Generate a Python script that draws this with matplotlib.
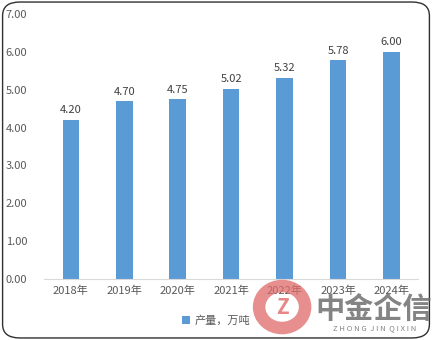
import matplotlib.pyplot as plt
from matplotlib.patches import FancyBboxPatch, Ellipse

plt.rcParams['font.family'] = ['Noto Sans CJK SC', 'DejaVu Sans']

years = ['2018年', '2019年', '2020年', '2021年', '2022年', '2023年', '2024年']
output = [4.20, 4.70, 4.75, 5.02, 5.32, 5.78, 6.00]
yticks = [0, 1, 2, 3, 4, 5, 6, 7]

fig = plt.figure(figsize=(4.32, 3.40), dpi=100)
ax = fig.add_axes([0.102, 0.179, 0.866, 0.78])

bars = ax.bar(range(len(years)), output, width=0.31, color='#5B9BD5', label='产量，万吨')
for b, v in zip(bars, output):
    ax.text(b.get_x() + b.get_width() / 2, v + 0.12, '%.2f' % v,
            ha='center', va='bottom', fontsize=8, color='#404040')

ax.set_xlim(-0.5, len(years) - 0.5)
ax.set_ylim(0, 7)
ax.set_yticks(yticks)
ax.set_yticklabels(['%.2f' % t for t in yticks])
ax.set_xticks(range(len(years)))
ax.set_xticklabels(years)
ax.tick_params(axis='both', length=0, labelsize=8, labelcolor='#595959')
ax.tick_params(axis='y', pad=12)
ax.tick_params(axis='x', pad=5)
for s in ['top', 'right', 'left']:
    ax.spines[s].set_visible(False)
ax.spines['bottom'].set_color('#D9D9D9')

leg = fig.legend(handles=[bars], labels=['产量，万吨'], loc='center',
                 bbox_to_anchor=(0.5, 0.058), frameon=False, fontsize=8,
                 handlelength=0.7, handleheight=0.7, handletextpad=0.4)
for t in leg.get_texts():
    t.set_color('#595959')

# rounded border
border = FancyBboxPatch((0.006, 0.006), 0.988, 0.988, transform=fig.transFigure,
                        boxstyle='round,pad=0,rounding_size=0.04',
                        fill=False, edgecolor='#303030', linewidth=1.0)
fig.patches.append(border)

# watermark logo
ring = Ellipse((0.653, 0.097), 46 / 432, 42 / 340, transform=fig.transFigure,
               fill=False, edgecolor='#E06A6A', linewidth=9, alpha=0.75)
fig.patches.append(ring)
fig.text(0.653, 0.097, 'Z', ha='center', va='center', fontsize=15,
         color='#E06A6A', alpha=0.8, fontweight='bold')
fig.text(0.864, 0.088, '中金企信', ha='center', va='center', fontsize=21,
         color='#6E6E6E', alpha=0.85, fontweight='bold')
fig.text(0.868, 0.036, 'Z H O N G  J I N  Q I X I N', ha='center', va='center',
         fontsize=5.5, color='#6E6E6E', alpha=0.85)

fig.savefig('out.png', dpi=100)
